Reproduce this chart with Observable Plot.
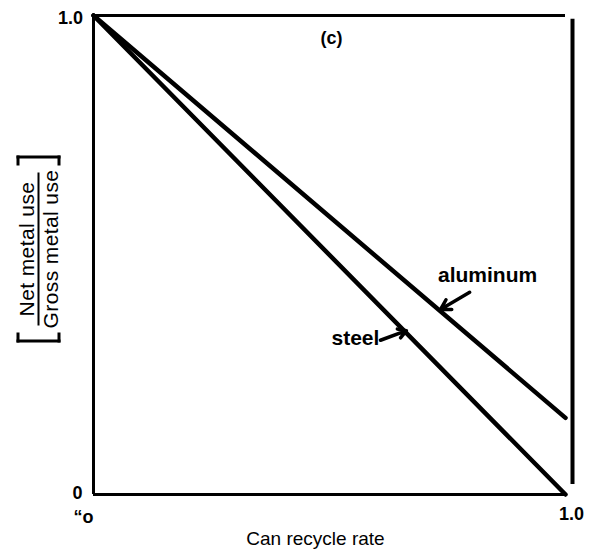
<!DOCTYPE html>
<html>
<head>
<meta charset="utf-8">
<script src="https://cdn.jsdelivr.net/npm/d3@7"></script>
<script src="https://cdn.jsdelivr.net/npm/@observablehq/plot@0.6"></script>
<style>
  html, body { margin: 0; padding: 0; background: #fff; }
  #wrap { position: relative; width: 591px; height: 552px; font-family: "Liberation Sans", Arial, sans-serif; }
  #ylab { position: absolute; width: 187px; height: 44px; left: -55.5px; top: 226.5px; transform: rotate(-90deg); color: #000; }
  #ylab .br { position: absolute; background: #000; }
  #ylab .t { position: absolute; left: 0; right: 0; text-align: center; font-size: 21px; line-height: 22px; white-space: nowrap; letter-spacing: 0.4px; }
  #ylab .frac { position: absolute; background: #000; height: 2px; width: 153px; left: 17px; top: 21px; }
</style>
</head>
<body>
<div id="wrap">
  <div id="ylab">
    <div class="br" style="left:0;top:0;width:3px;height:44px"></div>
    <div class="br" style="left:0;top:0;width:10px;height:3px"></div>
    <div class="br" style="left:0;bottom:0;width:10px;height:3px"></div>
    <div class="br" style="right:0;top:0;width:3px;height:44px"></div>
    <div class="br" style="right:0;top:0;width:10px;height:3px"></div>
    <div class="br" style="right:0;bottom:0;width:10px;height:3px"></div>
    <div class="t" id="num" style="top:-1px"></div>
    <div class="frac"></div>
    <div class="t" id="den" style="top:23px"></div>
  </div>
</div>
<script>
// Data
const recycleRate = [0, 1];
const steelRatio = [1.0, 0.0];
const aluminumRatio = [1.0, 0.16];
const panelLabel = "(c)";
const xTickValues = [0, 1];
const xTickLabels = ["\u201co", "1.0"];
const yTickValues = [0, 1];
const yTickLabels = ["0", "1.0"];
const xLabel = "Can recycle rate";
const yLabelNum = "Net metal use";
const yLabelDen = "Gross metal use";
const seriesNames = ["aluminum", "steel"];
const labelX = [0.835, 0.555];
const labelY = [0.457, 0.326];
const arrowFromX = [0.797, 0.608];
const arrowFromY = [0.422, 0.322];
const arrowToX = [0.735, 0.663];
const arrowToY = [0.386, 0.342];

const steel = recycleRate.map((r, i) => ({x: r, y: steelRatio[i]}));
const aluminum = recycleRate.map((r, i) => ({x: r, y: aluminumRatio[i]}));
const seriesLabels = seriesNames.map((name, i) => ({
  name, x: labelX[i], y: labelY[i],
  ax1: arrowFromX[i], ay1: arrowFromY[i], ax2: arrowToX[i], ay2: arrowToY[i]
}));

document.getElementById("num").textContent = yLabelNum;
document.getElementById("den").textContent = yLabelDen;

const font = "Liberation Sans, Arial, sans-serif";

const chart = Plot.plot({
  width: 591,
  height: 552,
  marginLeft: 93,
  marginRight: 26,
  marginTop: 15,
  marginBottom: 58,
  x: {domain: [0, 1], axis: null},
  y: {domain: [0, 1], axis: null},
  style: {fontFamily: font, color: "#000", background: "#fff", overflow: "visible"},
  marks: [
    // frame
    Plot.ruleY([0, 1], {x1: 0, x2: 1, stroke: "#000", strokeWidth: 3}),
    Plot.ruleX([0], {y1: 0, y2: 1, stroke: "#000", strokeWidth: 3}),
    Plot.ruleX([1], {y1: 0.021, y2: 0.992, dx: 7, stroke: "#000", strokeWidth: 4}),
    // series
    Plot.line(steel, {x: "x", y: "y", stroke: "#000", strokeWidth: 4.5}),
    Plot.line(aluminum, {x: "x", y: "y", stroke: "#000", strokeWidth: 4.5}),
    // series labels and arrows
    Plot.text(seriesLabels, {x: "x", y: "y", text: "name", fontSize: 21, fontWeight: "bold", fill: "#000"}),
    Plot.arrow(seriesLabels, {x1: "ax1", y1: "ay1", x2: "ax2", y2: "ay2", stroke: "#000", strokeWidth: 3.5, headLength: 10, bend: 0}),
    // panel label
    Plot.text([panelLabel], {x: 0.504, y: 0.952, text: d => d, fontSize: 18, fontWeight: "bold", fill: "#000"}),
    // x tick labels
    Plot.text([xTickValues[0]], {x: d => d, y: 0, text: () => xTickLabels[0], dy: 23, dx: -10, fontSize: 18, fontWeight: "bold", fill: "#000"}),
    Plot.text([xTickValues[1]], {x: d => d, y: 0, text: () => xTickLabels[1], dy: 20, dx: 6, fontSize: 18, fontWeight: "bold", fill: "#000"}),
    // y tick labels
    Plot.text([yTickValues[0]], {x: 0, y: d => d, text: () => yTickLabels[0], dx: -16, dy: -1, fontSize: 18, fontWeight: "bold", fill: "#000"}),
    Plot.text([yTickValues[1]], {x: 0, y: d => d, text: () => yTickLabels[1], dx: -23, dy: 3, fontSize: 18, fontWeight: "bold", fill: "#000"}),
    // x axis label
    Plot.text([xLabel], {x: 0.5, y: 0, text: d => d, dx: -14, dy: 44, fontSize: 19, fill: "#000"})
  ]
});
document.getElementById("wrap").prepend(chart);
</script>
</body>
</html>
